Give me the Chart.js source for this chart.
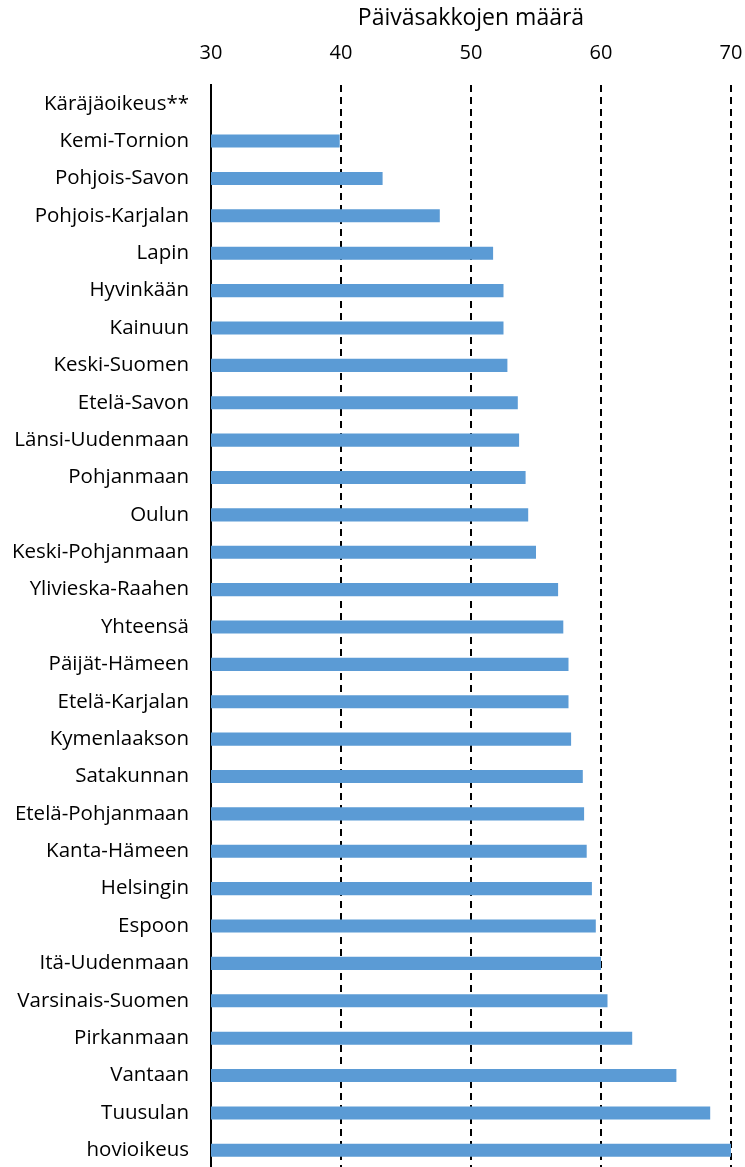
<!DOCTYPE html>
<html>
<head>
<meta charset="utf-8">
<script src="https://cdn.jsdelivr.net/npm/chart.js@4/dist/chart.umd.min.js"></script>
<style>
  html, body { margin: 0; padding: 0; background: #fff; overflow: hidden; }
  canvas { display: block; }
</style>
</head>
<body>
<canvas id="canvas" width="745" height="1169"></canvas>
<script>
var courts = [
        'Käräjäoikeus**', 'Kemi-Tornion', 'Pohjois-Savon', 'Pohjois-Karjalan', 'Lapin',
        'Hyvinkään', 'Kainuun', 'Keski-Suomen', 'Etelä-Savon', 'Länsi-Uudenmaan',
        'Pohjanmaan', 'Oulun', 'Keski-Pohjanmaan', 'Ylivieska-Raahen', 'Yhteensä',
        'Päijät-Hämeen', 'Etelä-Karjalan', 'Kymenlaakson', 'Satakunnan', 'Etelä-Pohjanmaan',
        'Kanta-Hämeen', 'Helsingin', 'Espoon', 'Itä-Uudenmaan', 'Varsinais-Suomen',
        'Pirkanmaan', 'Vantaan', 'Tuusulan', 'hovioikeus'
];
var dayFines = [
        null, 39.9, 43.2, 47.6, 51.7,
        52.5, 52.5, 52.8, 53.6, 53.7,
        54.2, 54.4, 55.0, 56.7, 57.1,
        57.5, 57.5, 57.7, 58.6, 58.7,
        58.9, 59.3, 59.6, 60.0, 60.5,
        62.4, 65.8, 68.4, 70.2
];
var xTicks = [30, 40, 50, 60, 70];

var font = '"Open Sans", sans-serif';

var config = {
        type: 'bar',
        data: {
                labels: courts,
                datasets: [{
                        label: 'Päiväsakkojen määrä',
                        data: dayFines,
                        backgroundColor: '#5B9BD5',
                        borderWidth: 0,
                        barPercentage: 0.35,
                        categoryPercentage: 1
                }]
        },
        options: {
                indexAxis: 'y',
                responsive: false,
                animation: false,
                layout: { padding: { left: 0, right: 14, top: 5, bottom: 0 } },
                plugins: {
                        legend: { display: false },
                        tooltip: { enabled: false }
                },
                scales: {
                        x: {
                                position: 'top',
                                min: 30,
                                max: 70,
                                afterBuildTicks: function(scale) {
                                        scale.ticks = xTicks.map(function(v) { return { value: v }; });
                                },
                                afterFit: function(scale) {
                                        scale.height = 80;
                                        scale.paddingLeft = 0;
                                        scale.paddingRight = 0;
                                },
                                title: {
                                        display: true,
                                        text: 'Päiväsakkojen määrä',
                                        color: '#000',
                                        font: { family: font, size: 23 },
                                        padding: { top: 0, bottom: 5 }
                                },
                                ticks: {
                                        color: '#000',
                                        font: { family: font, size: 20 },
                                        padding: 20
                                },
                                grid: {
                                        color: '#000',
                                        lineWidth: 2,
                                        drawTicks: false
                                },
                                border: { display: false, dash: [7, 5] }
                        },
                        y: {
                                afterFit: function(scale) {
                                        scale.width = 211;
                                        scale.paddingTop = 0;
                                        scale.paddingBottom = 0;
                                },
                                ticks: {
                                        color: '#000',
                                        font: { family: font, size: 20.5 },
                                        padding: 22
                                },
                                grid: { display: false, drawTicks: false },
                                border: { display: true, color: '#000', width: 2 }
                        }
                }
        }
};

window.onload = function() {
        var ctx = document.getElementById('canvas').getContext('2d');
        window.myBar = new Chart(ctx, config);
};
</script>
</body>
</html>
